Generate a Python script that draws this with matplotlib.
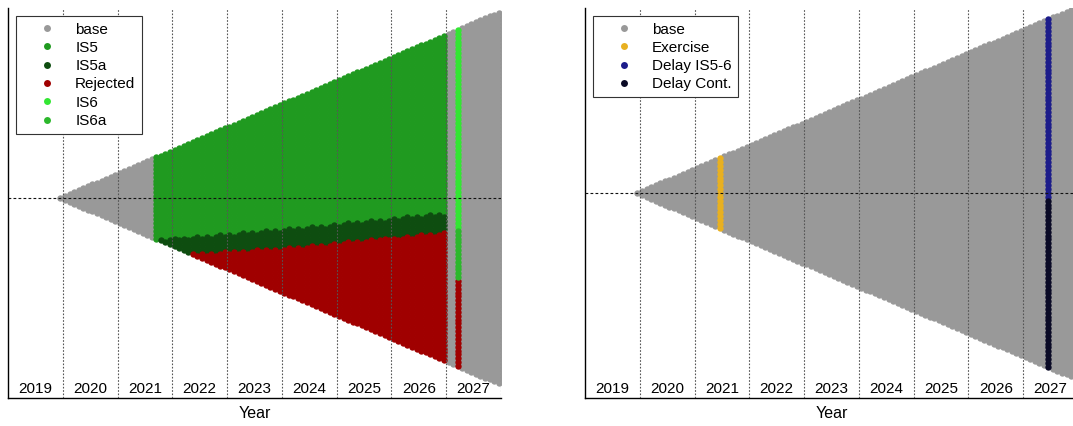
import numpy as np
import matplotlib
matplotlib.use("Agg")
import matplotlib.pyplot as plt
from matplotlib.lines import Line2D
from matplotlib.transforms import blended_transform_factory

plt.rcParams["font.family"] = ["Liberation Sans", "DejaVu Sans"]

# ---- data -------------------------------------------------------------
years = list(range(2019, 2028))
lattice_first = (2019, 12)          # first monthly step of the lattice
lattice_steps = 97                  # number of monthly columns

# left panel: IS5 decision window and class boundaries (node units)
is5_first = (2021, 9)
is5_last = (2026, 12)
is5a_top_t = [2021.70, 2024.30, 2027.00]
is5a_top_y = [-21.5, -15.5, -8.0]
rejected_top_t = [2022.30, 2024.30, 2027.00]
rejected_top_y = [-29.0, -25.5, -17.5]

# left panel: IS6 decision column
is6_month = (2027, 3)
is6_bottom = -15.5
is6a_bottom = -41.5

# right panel: exercise and delay columns
exercise_month = (2021, 6)
delay_month = (2027, 6)
delay_split = -2.5

colors = {
    "base": "#999999",
    "IS5": "#209a20",
    "IS5a": "#0e4d10",
    "Rejected": "#a00000",
    "IS6": "#33e633",
    "IS6a": "#2cb82c",
    "Exercise": "#e8b020",
    "Delay IS5-6": "#1c1c8a",
    "Delay Cont.": "#0a0a26",
}


def month_t(ym):
    y, m = ym
    return y + (m - 0.5) / 12.0


t0 = month_t(lattice_first)


def col_index(ym):
    return int(round((month_t(ym) - t0) * 12))


# binomial lattice nodes
node_col = np.concatenate([np.full(n + 1, n) for n in range(lattice_steps)])
node_y = np.concatenate([-n + 2 * np.arange(n + 1) for n in range(lattice_steps)]).astype(float)
node_t = t0 + node_col / 12.0

# classify nodes for the left panel
left_cls = np.full(node_y.shape, "base", dtype=object)
c5a, c5b = col_index(is5_first), col_index(is5_last)
in5 = (node_col >= c5a) & (node_col <= c5b)
g_top = np.interp(node_t, is5a_top_t, is5a_top_y)
r_top = np.interp(node_t, rejected_top_t, rejected_top_y, left=-1e9)
left_cls[in5 & (node_y >= g_top)] = "IS5"
left_cls[in5 & (node_y < g_top) & (node_y >= r_top)] = "IS5a"
left_cls[in5 & (node_y < r_top)] = "Rejected"
c6 = col_index(is6_month)
in6 = node_col == c6
left_cls[in6 & (node_y >= is6_bottom)] = "IS6"
left_cls[in6 & (node_y < is6_bottom) & (node_y >= is6a_bottom)] = "IS6a"
left_cls[in6 & (node_y < is6a_bottom)] = "Rejected"

# classify nodes for the right panel
right_cls = np.full(node_y.shape, "base", dtype=object)
right_cls[node_col == col_index(exercise_month)] = "Exercise"
cd = node_col == col_index(delay_month)
right_cls[cd & (node_y >= delay_split)] = "Delay IS5-6"
right_cls[cd & (node_y < delay_split)] = "Delay Cont."

left_order = ["base", "IS5", "IS5a", "Rejected", "IS6", "IS6a"]
right_order = ["base", "Exercise", "Delay IS5-6", "Delay Cont."]

# ---- figure -----------------------------------------------------------
W, H = 1073, 426
fig = plt.figure(figsize=(W / 100, H / 100), dpi=100)
ax_l = fig.add_axes([8 / W, 28 / H, 493 / W, 390 / H])
ax_r = fig.add_axes([585 / W, 28 / H, 493 / W, 390 / H])

MS = 21


def draw_panel(ax, cls, order, ylim):
    for name in order:
        m = cls == name
        ax.scatter(node_t[m], node_y[m], s=MS, c=colors[name], marker="o",
                   linewidths=0, zorder=2)
    ax.set_xlim(2019, 2028)
    ax.set_ylim(*ylim)
    for yr in years[1:] + [2028]:
        ax.axvline(yr, color="#555555", lw=0.8, ls=(0, (1.5, 1.5)), zorder=3)
    ax.axhline(0, color="#111111", lw=0.8, ls=(0, (2.5, 2)), zorder=3)
    tr = blended_transform_factory(ax.transData, ax.transAxes)
    for yr in years:
        ax.text(yr + 0.5, 0.024, str(yr), transform=tr, ha="center",
                va="center", fontsize=11, color="black", zorder=4)
    ax.text(0.5, -0.04, "Year", transform=ax.transAxes, ha="center",
            va="center", fontsize=11.5)
    ax.set_xticks([])
    ax.set_yticks([])
    ax.spines["top"].set_visible(False)
    ax.spines["right"].set_visible(False)
    for s in ("left", "bottom"):
        ax.spines[s].set_linewidth(1.0)
        ax.spines[s].set_color("black")
    handles = [Line2D([], [], ls="none", marker="o", markersize=5,
                      markerfacecolor=colors[n], markeredgewidth=0)
               for n in order]
    leg = ax.legend(handles, order, loc="upper left", fontsize=11,
                    frameon=True, fancybox=False, framealpha=1,
                    edgecolor="#333333", handlelength=3.2,
                    handletextpad=0.25, labelspacing=0.28,
                    borderaxespad=0.55, borderpad=0.4)
    leg.get_frame().set_linewidth(0.8)
    leg.set_zorder(5)


draw_panel(ax_l, left_cls, left_order, (-103.6, 98.4))
draw_panel(ax_r, right_cls, right_order, (-106.2, 95.9))

fig.savefig("out.png", dpi=100)
